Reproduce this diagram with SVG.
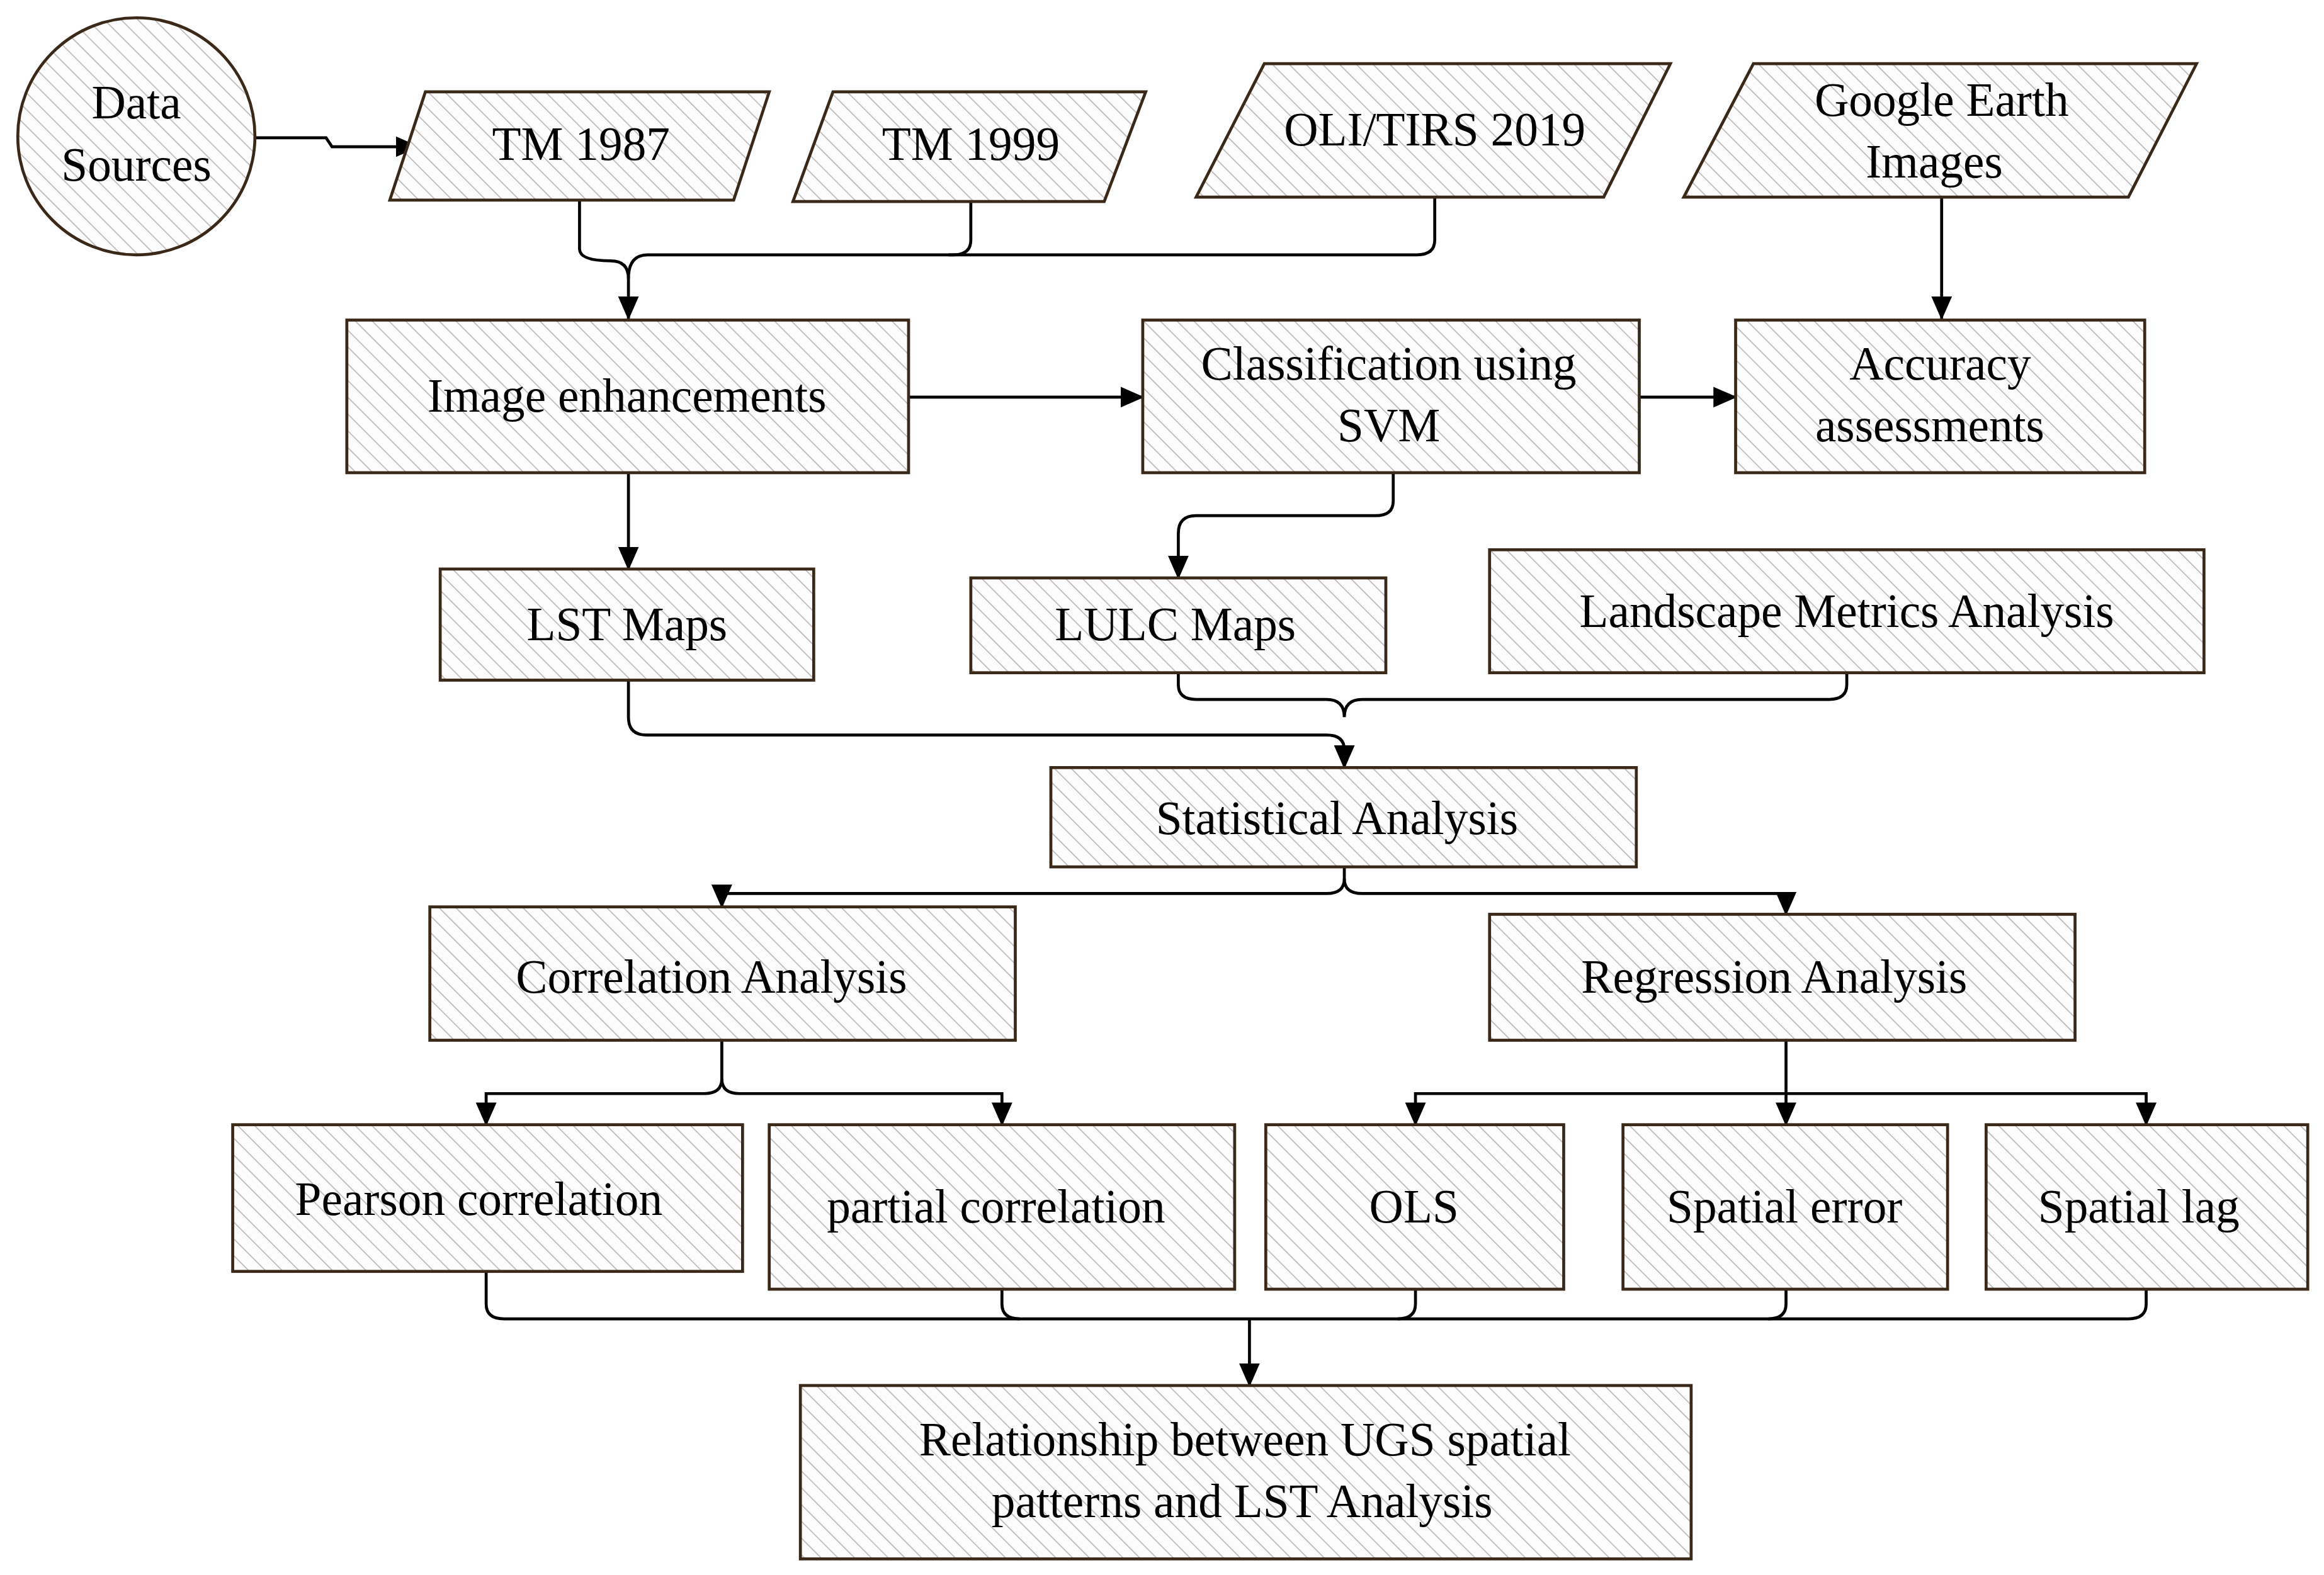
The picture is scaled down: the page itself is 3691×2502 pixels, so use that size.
<svg xmlns="http://www.w3.org/2000/svg" width="3691" height="2502" viewBox="0 0 3691 2502">
<style>
.n{fill:url(#h);stroke:#3a2818;stroke-width:2}
.t{font-family:"Liberation Serif",serif;font-size:32px;fill:#000;text-anchor:middle}
.c{fill:none;stroke:#000;stroke-width:2}
</style>
<defs>
<pattern id="h" patternUnits="userSpaceOnUse" width="8" height="8" patternTransform="rotate(-45)">
<rect width="8" height="8" fill="#fdfcfc"/>
<line x1="0" y1="0" x2="0" y2="8" stroke="#b5b0b0" stroke-width="1.3"/>
</pattern>
<marker id="a" markerWidth="16" markerHeight="14" refX="15" refY="7" orient="auto" markerUnits="userSpaceOnUse">
<path d="M0,0 L16,7 L0,14 z" fill="#000"/>
</marker>
</defs>
<rect width="3691" height="2502" fill="#fff"/>
<g transform="scale(2.354)">
<g id="connectors">
<path class="c" d="M172,93 H220 L224,99 H282" marker-end="url(#a)"/>
<path class="c" d="M391,135 V168 Q391,176 412,176 Q424,176 424,188 V215" marker-end="url(#a)"/>
<path class="c" d="M655,135 V162 Q655,172 643,172 H437 Q424,172 424,188"/>
<path class="c" d="M968,133 V162 Q968,172 956,172 H640"/>
<path class="c" d="M1310,133 V215" marker-end="url(#a)"/>
<path class="c" d="M613,268 H771" marker-end="url(#a)"/>
<path class="c" d="M1106,268 H1171" marker-end="url(#a)"/>
<path class="c" d="M424,319 V384" marker-end="url(#a)"/>
<path class="c" d="M940,319 V338 Q940,348 928,348 H807 Q795,348 795,360 V390" marker-end="url(#a)"/>
<path class="c" d="M424,459 V484 Q424,496 436,496 H895 Q907,496 907,506 V518" marker-end="url(#a)"/>
<path class="c" d="M795,454 V462 Q795,472 807,472 H895 Q907,472 907,484 M907,484 Q907,472 919,472 H1234 Q1246,472 1246,462 V454"/>
<path class="c" d="M907,585 V593 Q907,603 895,603 H487 V612" marker-end="url(#a)"/>
<path class="c" d="M907,593 Q907,603 919,603 H1205 V617" marker-end="url(#a)"/>
<path class="c" d="M487,702 V728 Q487,738 475,738 H328 V759" marker-end="url(#a)"/>
<path class="c" d="M487,728 Q487,738 499,738 H676 V759" marker-end="url(#a)"/>
<path class="c" d="M1205,702 V738 H955 V759" marker-end="url(#a)"/>
<path class="c" d="M1205,738 V759" marker-end="url(#a)"/>
<path class="c" d="M1205,738 H1448 V759" marker-end="url(#a)"/>
<path class="c" d="M328,858 V880 Q328,890 340,890 H1436 Q1448,890 1448,880 V870"/>
<path class="c" d="M676,870 V880 Q676,890 688,890 M955,870 V880 Q955,890 943,890 M1205,870 V880 Q1205,890 1193,890"/>
<path class="c" d="M843,890 V935" marker-end="url(#a)"/>
</g>
<g id="data-sources"><ellipse class="n" cx="92" cy="92" rx="80" ry="80"/><text class="t" x="92" y="80">Data</text><text class="t" x="92" y="122">Sources</text></g>
<g id="tm1987"><polygon class="n" points="287,62 519,62 495,135 263,135"/><text class="t" x="392" y="108">TM 1987</text></g>
<g id="tm1999"><polygon class="n" points="562,62 773,62 745,136 535,136"/><text class="t" x="655" y="108">TM 1999</text></g>
<g id="oli"><polygon class="n" points="853,43 1127,43 1082,133 807,133"/><text class="t" x="968" y="98">OLI/TIRS 2019</text></g>
<g id="google"><polygon class="n" points="1183,43 1482,43 1436,133 1136,133"/><text class="t" x="1310" y="78">Google Earth</text><text class="t" x="1305" y="120">Images</text></g>
<g id="image-enh"><rect class="n" x="234" y="216" width="379" height="103"/><text class="t" x="423" y="278">Image enhancements</text></g>
<g id="classification"><rect class="n" x="771" y="216" width="335" height="103"/><text class="t" x="937" y="256">Classification using</text><text class="t" x="937" y="298">SVM</text></g>
<g id="accuracy"><rect class="n" x="1171" y="216" width="276" height="103"/><text class="t" x="1309" y="256">Accuracy</text><text class="t" x="1302" y="298">assessments</text></g>
<g id="lst"><rect class="n" x="297" y="384" width="252" height="75"/><text class="t" x="423" y="432">LST Maps</text></g>
<g id="lulc"><rect class="n" x="655" y="390" width="280" height="64"/><text class="t" x="793" y="432">LULC Maps</text></g>
<g id="landscape"><rect class="n" x="1005" y="371" width="482" height="83"/><text class="t" x="1246" y="423">Landscape Metrics Analysis</text></g>
<g id="statistical"><rect class="n" x="709" y="518" width="395" height="67"/><text class="t" x="902" y="563">Statistical Analysis</text></g>
<g id="correlation"><rect class="n" x="290" y="612" width="395" height="90"/><text class="t" x="480" y="670">Correlation Analysis</text></g>
<g id="regression"><rect class="n" x="1005" y="617" width="395" height="85"/><text class="t" x="1197" y="670">Regression Analysis</text></g>
<g id="pearson"><rect class="n" x="157" y="759" width="344" height="99"/><text class="t" x="323" y="820">Pearson correlation</text></g>
<g id="partial"><rect class="n" x="519" y="759" width="314" height="111"/><text class="t" x="672" y="825">partial correlation</text></g>
<g id="ols"><rect class="n" x="854" y="759" width="201" height="111"/><text class="t" x="954" y="825">OLS</text></g>
<g id="spatial-error"><rect class="n" x="1095" y="759" width="219" height="111"/><text class="t" x="1204" y="825">Spatial error</text></g>
<g id="spatial-lag"><rect class="n" x="1340" y="759" width="217" height="111"/><text class="t" x="1443" y="825">Spatial lag</text></g>
<g id="relationship"><rect class="n" x="540" y="935" width="601" height="117"/><text class="t" x="840" y="982">Relationship between UGS spatial</text><text class="t" x="838" y="1024">patterns and LST Analysis</text></g>
</g>
</svg>
